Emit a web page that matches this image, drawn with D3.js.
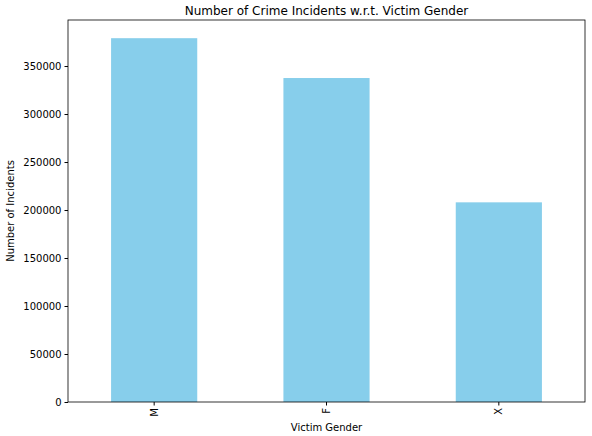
<!DOCTYPE html>
<html><head><meta charset="utf-8">
<script src="https://cdn.jsdelivr.net/npm/d3@7"></script>
<style>body{margin:0;background:#fff}text{font-family:"DejaVu Sans",sans-serif}</style>
</head><body><svg id="c" width="592" height="436"></svg>
<script>
const categories = ["M","F","X"];
const values = [379000, 337500, 208000];
const yTicks = [0,50000,100000,150000,200000,250000,300000,350000];

const svg = d3.select("#c");
const m = {l:68, r:585, t:20, b:402};
const x = d3.scaleBand().domain(categories).range([m.l,m.r]).paddingInner(0.5).paddingOuter(0.25);
const y = d3.scaleLinear().domain([0, 397950]).range([m.b,m.t]);

svg.selectAll("rect.bar").data(categories).enter().append("rect")
 .attr("x",d=>x(d)).attr("width",x.bandwidth())
 .attr("y",(d,i)=>y(values[i])).attr("height",(d,i)=>m.b-y(values[i]))
 .attr("fill","#87ceeb");

const ya = svg.append("g").attr("transform",`translate(${m.l},0)`)
 .call(d3.axisLeft(y).tickValues(yTicks).tickFormat(d3.format("d")).tickSize(3.5).tickPadding(3));
ya.select(".domain").remove();
ya.selectAll("text").attr("font-size",10);

const xa = svg.append("g").attr("transform",`translate(0,${m.b})`)
 .call(d3.axisBottom(x).tickSize(3.5).tickPadding(3));
xa.select(".domain").remove();
xa.selectAll("text").attr("font-size",10).attr("transform","rotate(-90)")
 .attr("text-anchor","end").attr("dy","0.35em").attr("x",-6).attr("y",0);

svg.append("rect").attr("x",m.l).attr("y",m.t).attr("width",m.r-m.l).attr("height",m.b-m.t)
 .attr("fill","none").attr("stroke","#000").attr("stroke-width",0.8);

svg.append("text").attr("x",(m.l+m.r)/2).attr("y",15).attr("text-anchor","middle")
 .attr("font-size",12).text("Number of Crime Incidents w.r.t. Victim Gender");
svg.append("text").attr("x",(m.l+m.r)/2).attr("y",431).attr("text-anchor","middle")
 .attr("font-size",10).text("Victim Gender");
svg.append("text").attr("transform",`translate(14,${(m.t+m.b)/2}) rotate(-90)`).attr("text-anchor","middle")
 .attr("font-size",10).text("Number of Incidents");
</script></body></html>
